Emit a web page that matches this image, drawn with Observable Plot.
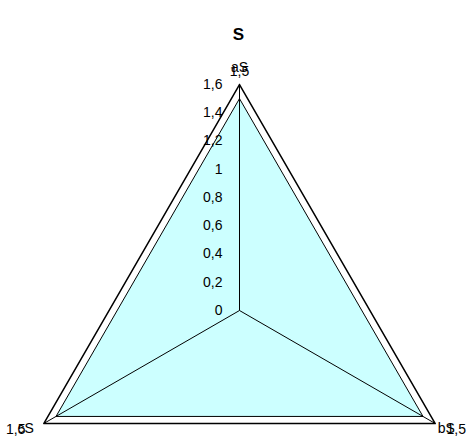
<!DOCTYPE html>
<html><head><meta charset="utf-8">
<script src="https://cdn.jsdelivr.net/npm/d3@7"></script>
<script src="https://cdn.jsdelivr.net/npm/@observablehq/plot@0.6"></script>
<style>body{margin:0;background:#fff} svg{font-family:"Liberation Sans",Arial,sans-serif}</style>
</head><body><div id="chart"></div>
<script>
const title = "S";
const categories = ["aS", "bS", "cS"];
const values = [1.5, 1.5, 1.5];
const tickValues = [0, 0.2, 0.4, 0.6, 0.8, 1, 1.2, 1.4, 1.6];
const tickLabels = ["0", "0,2", "0,4", "0,6", "0,8", "1", "1,2", "1,4", "1,6"];
const maxValue = 1.6;

const W = 470, H = 436, cx = 239, cy = 310, R = 226;
const k = R / maxValue;
const n = categories.length;
const ang = i => Math.PI / 2 - i * 2 * Math.PI / n;
const pt = (i, r) => ({x: r * Math.cos(ang(i)), y: r * Math.sin(ang(i)), i});

const outer = categories.map((c, i) => pt(i, maxValue));
const outerClosed = [...outer, outer[0]];
const dataPts = values.map((v, i) => pt(i, v));
const dataClosed = [...dataPts, dataPts[0]];
const fmt = v => String(v).replace(".", ",");

const catOff = [[0, -17], [11, 5], [-18, 5]];
const valOff = [[0, -13], [21, 6], [-28, 6]];

const marks = [
  Plot.line(outerClosed, {x: "x", y: "y", stroke: "black", strokeWidth: 1.5, fill: "white"}),
  Plot.line(dataClosed, {x: "x", y: "y", stroke: "black", strokeWidth: 1, fill: "#ccffff"}),
  Plot.link(outer, {x1: 0, y1: 0, x2: "x", y2: "y", stroke: "black", strokeWidth: 1}),
  Plot.text(tickValues, {x: 0, y: d => d, text: (d, i) => tickLabels[i], textAnchor: "end", dx: -17, fontSize: 14, fill: "black"}),
  Plot.text([title], {frameAnchor: "top", dy: 27, text: d => d, fontSize: 17, fontWeight: "bold", fill: "black", dx: 3})
];
categories.forEach((c, i) => {
  marks.push(Plot.text([outer[i]], {x: "x", y: "y", text: () => c, dx: catOff[i][0], dy: catOff[i][1], fontSize: 14, fill: "black"}));
  marks.push(Plot.text([outer[i]], {x: "x", y: "y", text: () => fmt(values[i]), dx: valOff[i][0], dy: valOff[i][1], fontSize: 14, fill: "black"}));
});

const chart = Plot.plot({
  width: W, height: H,
  margin: 0,
  style: {fontFamily: "Liberation Sans, Arial, sans-serif", background: "white"},
  x: {domain: [-cx / k, (W - cx) / k], range: [0, W], axis: null},
  y: {domain: [-(H - cy) / k, cy / k], range: [H, 0], axis: null},
  marks
});
document.getElementById("chart").appendChild(chart);
</script>
</body></html>
